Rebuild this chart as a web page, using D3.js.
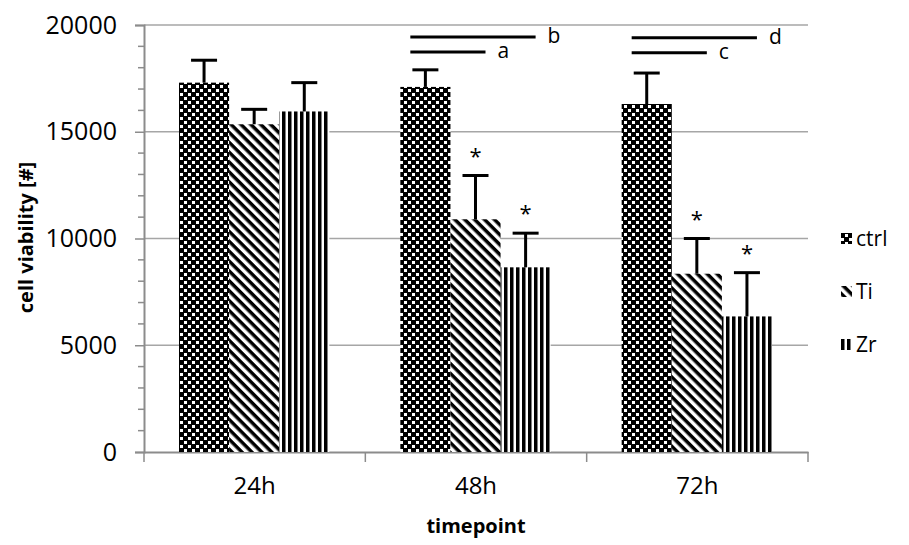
<!DOCTYPE html>
<html>
<head>
<meta charset="utf-8">
<script src="https://cdn.jsdelivr.net/npm/d3@7"></script>
<style>
  body { margin: 0; background: #fff; }
  svg { font-family: 'Open Sans', sans-serif; }
</style>
</head>
<body>
<script>
// Data
var categories = ['24h', '48h', '72h']
var series = ['ctrl', 'Ti', 'Zr']
var ctrlValues = [17300, 17100, 16300]
var tiValues = [15350, 10900, 8350]
var zrValues = [15950, 8650, 6350]
var ctrlErr = [1050, 800, 1450]
var tiErr = [700, 2050, 1650]
var zrErr = [1350, 1600, 2050]
var yTicks = [0, 5000, 10000, 15000, 20000]
// significance stars: [category, series]
var stars = [['48h', 'Ti'], ['48h', 'Zr'], ['72h', 'Ti'], ['72h', 'Zr']]
// brackets: [category, from series, to series, label, height]
var brackets = [['48h', 'ctrl', 'Ti', 'a', 18740], ['48h', 'ctrl', 'Zr', 'b', 19440],
                ['72h', 'ctrl', 'Ti', 'c', 18700], ['72h', 'ctrl', 'Zr', 'd', 19400]]

var valuesBySeries = { ctrl: ctrlValues, Ti: tiValues, Zr: zrValues }
var errBySeries = { ctrl: ctrlErr, Ti: tiErr, Zr: zrErr }
var data = []
categories.forEach(function (c, i) {
  series.forEach(function (s) {
    data.push({ cat: c, s: s, v: valuesBySeries[s][i], e: errBySeries[s][i] })
  })
})

var W = 909, H = 545
var margin = { top: 25, right: 101, bottom: 93, left: 144 }
var w = W - margin.left - margin.right
var h = H - margin.top - margin.bottom

var svg = d3.select('body').append('svg')
    .attr('width', W)
    .attr('height', H)

// Patterns
var defs = svg.append('defs')
var pCtrl = defs.append('pattern').attr('id', 'p-ctrl')
    .attr('patternUnits', 'userSpaceOnUse').attr('width', 8).attr('height', 8)
pCtrl.append('rect').attr('width', 8).attr('height', 8).attr('fill', '#000')
pCtrl.append('rect').attr('x', 0).attr('y', 0).attr('width', 3).attr('height', 3).attr('fill', '#fff')
pCtrl.append('rect').attr('x', 4).attr('y', 4).attr('width', 3).attr('height', 3).attr('fill', '#fff')
var pTi = defs.append('pattern').attr('id', 'p-Ti')
    .attr('patternUnits', 'userSpaceOnUse').attr('width', 7).attr('height', 7)
    .attr('patternTransform', 'rotate(45)')
pTi.append('rect').attr('width', 7).attr('height', 7).attr('fill', '#fff')
pTi.append('rect').attr('width', 7).attr('height', 3.5).attr('fill', '#000')
var pZr = defs.append('pattern').attr('id', 'p-Zr')
    .attr('patternUnits', 'userSpaceOnUse').attr('width', 6).attr('height', 6)
pZr.append('rect').attr('width', 6).attr('height', 6).attr('fill', '#fff')
pZr.append('rect').attr('width', 3.5).attr('height', 6).attr('fill', '#000')

var g = svg.append('g')
    .attr('transform', 'translate(' + margin.left + ',' + margin.top + ')')

// Scales
var xScale = d3.scaleBand().domain(categories).range([0, w])
var xInner = d3.scaleBand().domain(series).range([35, xScale.bandwidth() - 36])
var yScale = d3.scaleLinear().domain([0, 20000]).range([h, 0])

// Gridlines
g.selectAll('.grid').data(yTicks.slice(1))
  .enter().append('line')
    .attr('x1', 0).attr('x2', w)
    .attr('y1', function (d) { return yScale(d) })
    .attr('y2', function (d) { return yScale(d) })
    .attr('stroke', '#a6a6a6').attr('stroke-width', 1.5)

// Y axis
var yAxis = d3.axisLeft(yScale).tickValues(yTicks).tickFormat(d3.format('d'))
    .tickSize(9).tickPadding(18)
var yg = g.append('g').call(yAxis)
yg.select('.domain').attr('stroke', '#8c8c8c').attr('stroke-width', 2)
yg.selectAll('.tick line').attr('stroke', '#8c8c8c').attr('stroke-width', 1.5)
yg.selectAll('.tick text').attr('font-size', 25).attr('fill', '#000')
    .attr('font-family', "'Open Sans', sans-serif")
// minor ticks
var minor = d3.range(0, 20001, 1000).filter(function (d) { return d % 5000 !== 0 })
g.selectAll('.minor').data(minor)
  .enter().append('line')
    .attr('x1', -6).attr('x2', 0)
    .attr('y1', function (d) { return yScale(d) })
    .attr('y2', function (d) { return yScale(d) })
    .attr('stroke', '#8c8c8c').attr('stroke-width', 1.5)

// X axis
var xg = g.append('g').attr('transform', 'translate(0,' + h + ')')
    .call(d3.axisBottom(xScale).tickSize(0).tickPadding(25))
xg.select('.domain').attr('stroke', '#8c8c8c').attr('stroke-width', 2)
xg.selectAll('.tick text').attr('font-size', 24).attr('fill', '#000')
    .attr('font-family', "'Open Sans', sans-serif")
var bounds = [0].concat(categories.map(function (c) { return xScale(c) + xScale.bandwidth() }))
g.selectAll('.xtick').data(bounds)
  .enter().append('line')
    .attr('x1', function (d) { return d }).attr('x2', function (d) { return d })
    .attr('y1', h).attr('y2', h + 10)
    .attr('stroke', '#8c8c8c').attr('stroke-width', 1.5)

// Bars
g.selectAll('.bar').data(data)
  .enter().append('rect')
    .attr('x', function (d) { return xScale(d.cat) + xInner(d.s) })
    .attr('y', function (d) { return yScale(d.v) })
    .attr('width', xInner.bandwidth())
    .attr('height', function (d) { return h - yScale(d.v) })
    .attr('fill', function (d) { return 'url(#p-' + d.s + ')' })

// Error bars
var eb = g.selectAll('.err').data(data).enter().append('g')
    .attr('stroke', '#000').attr('stroke-width', 3)
eb.append('line')
    .attr('x1', function (d) { return xScale(d.cat) + xInner(d.s) + xInner.bandwidth() / 2 })
    .attr('x2', function (d) { return xScale(d.cat) + xInner(d.s) + xInner.bandwidth() / 2 })
    .attr('y1', function (d) { return yScale(d.v) })
    .attr('y2', function (d) { return yScale(d.v + d.e) })
eb.append('line')
    .attr('x1', function (d) { return xScale(d.cat) + xInner(d.s) + xInner.bandwidth() / 2 - 13 })
    .attr('x2', function (d) { return xScale(d.cat) + xInner(d.s) + xInner.bandwidth() / 2 + 13 })
    .attr('y1', function (d) { return yScale(d.v + d.e) })
    .attr('y2', function (d) { return yScale(d.v + d.e) })

// Stars
function findDatum(c, s) {
  return data.filter(function (d) { return d.cat === c && d.s === s })[0]
}
g.selectAll('.star').data(stars)
  .enter().append('text')
    .attr('x', function (d) { return xScale(d[0]) + xInner(d[1]) + xInner.bandwidth() / 2 })
    .attr('y', function (d) { var dd = findDatum(d[0], d[1]); return yScale(dd.v + dd.e) - 12 })
    .attr('text-anchor', 'middle')
    .attr('font-size', 22)
    .text('*')

// Significance brackets
g.selectAll('.brk').data(brackets)
  .enter().append('line')
    .attr('x1', function (d) { return xScale(d[0]) + xInner(d[1]) + 10 })
    .attr('x2', function (d) { return xScale(d[0]) + xInner(d[2]) + xInner.bandwidth() / 2 + 10 })
    .attr('y1', function (d) { return yScale(d[4]) })
    .attr('y2', function (d) { return yScale(d[4]) })
    .attr('stroke', '#000').attr('stroke-width', 3)
g.selectAll('.brkl').data(brackets)
  .enter().append('text')
    .attr('x', function (d) { return xScale(d[0]) + xInner(d[2]) + xInner.bandwidth() / 2 + 22 })
    .attr('y', function (d) { return yScale(d[4]) + 6 })
    .attr('font-size', 21)
    .text(function (d) { return d[3] })

// Axis titles
svg.append('text')
    .attr('transform', 'translate(33,' + (margin.top + h / 2 - 1) + ') rotate(-90)')
    .attr('text-anchor', 'middle')
    .attr('font-size', 20).attr('font-weight', 'bold')
    .text('cell viability [#]')
svg.append('text')
    .attr('x', margin.left + w / 2).attr('y', 533)
    .attr('text-anchor', 'middle')
    .attr('font-size', 20).attr('font-weight', 'bold')
    .text('timepoint')

// Legend
var legend = svg.selectAll('.legend').data(series)
  .enter().append('g')
    .attr('transform', function (d, i) { return 'translate(841,' + (238 + i * 53) + ')' })
legend.append('rect')
    .attr('x', 0).attr('y', -5).attr('width', 11).attr('height', 11)
    .attr('fill', function (d) { return 'url(#p-' + d + ')' })
legend.append('text')
    .attr('x', 15).attr('y', 8)
    .attr('font-size', 21)
    .text(function (d) { return d })
</script>
</body>
</html>
